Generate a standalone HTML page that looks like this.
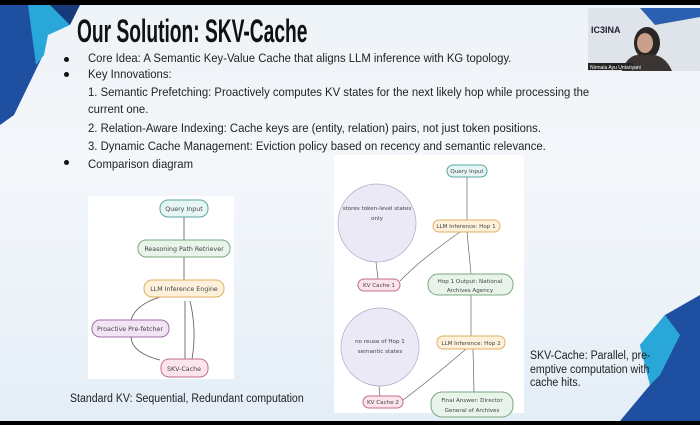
<!DOCTYPE html>
<html><head><meta charset="utf-8"><style>
body{margin:0;width:700px;height:425px;overflow:hidden;background:#000;font-family:"Liberation Sans",sans-serif}
#s{position:absolute;left:0;top:5px;width:700px;height:416px;background:linear-gradient(180deg,#eef3f8 0%,#f4f7fa 40%,#e4eef7 100%);overflow:hidden}
.t{position:absolute;color:#222;font-size:12.3px;white-space:nowrap;transform:scaleX(.92);transform-origin:left}
.b{position:absolute;width:5px;height:5px;border-radius:50%;background:#111}
</style></head><body>
<div id="s">
<svg width="700" height="416" style="position:absolute;left:0;top:0">
<polygon points="0,0 62,0 48,28 44,48 14,110 0,120" fill="#1f4fa0"/>
<polygon points="28,0 60,0 70,20 48,30 44,50 36,60" fill="#28a7d8"/>
<polygon points="50,0 80,0 70,20" fill="#163a7a"/>
<polygon points="700,290 700,416 620,416 650,380 640,340 665,310" fill="#1f4fa0"/>
<polygon points="640,340 665,310 680,330 660,370 650,380" fill="#28a7d8"/>
<rect x="588" y="3" width="112" height="63" fill="#dfe4ea"/>
<polygon points="640,3 700,3 700,12 655,20" fill="#2b5fb0"/>
<text x="591" y="28" font-size="9" font-weight="bold" fill="#223">IC3INA</text>
<ellipse cx="647" cy="38" rx="13" ry="16" fill="#2a2624"/>
<ellipse cx="645" cy="38" rx="8" ry="10" fill="#c9a08a"/>
<path d="M622,66 Q628,47 645,50 Q664,47 672,66Z" fill="#3a3532"/>
<rect x="588" y="58" width="45" height="7" fill="#222"/>
<text x="590" y="64" font-size="5" fill="#fff">Nirmala Ayu Untariyani</text>
<rect x="88" y="191" width="146" height="183" fill="#fff"/>
<g stroke="#555" stroke-width="0.8" fill="none">
<line x1="184" y1="212" x2="184" y2="235"/>
<line x1="184" y1="252" x2="184" y2="275"/>
<path d="M160,292 Q135,300 131,315"/>
<path d="M131,332 Q132,348 160,355"/>
<line x1="185" y1="296" x2="185" y2="354"/>
<path d="M192,354 Q197,325 190,296"/>
</g>
<g font-size="6.3" text-anchor="middle" font-family="DejaVu Sans" fill="#444">
<rect x="160" y="195" width="48" height="17" rx="8" fill="#e6f6f5" stroke="#5aa6a0"/><text x="184" y="206">Query Input</text>
<rect x="138" y="235" width="92" height="17" rx="8" fill="#e8f4ea" stroke="#7aa880"/><text x="184" y="246">Reasoning Path Retriever</text>
<rect x="144" y="275" width="80" height="17" rx="8" fill="#fdf1dc" stroke="#e0b060"/><text x="184" y="286">LLM Inference Engine</text>
<rect x="92" y="315" width="77" height="17" rx="8" fill="#f3e4f5" stroke="#a070a8"/><text x="130" y="326">Proactive Pre-fetcher</text>
<rect x="161" y="354" width="47" height="18" rx="8" fill="#fbe4ea" stroke="#c07088"/><text x="184" y="366">SKV-Cache</text>
</g>
<rect x="334" y="150" width="190" height="258" fill="#fff"/>
<g stroke="#666" stroke-width="0.7" fill="none">
<line x1="467" y1="172" x2="467" y2="215"/>
<line x1="467" y1="227" x2="471" y2="269"/>
<path d="M460,227 Q420,255 400,276"/>
<line x1="376" y1="257" x2="378" y2="274"/>
<line x1="471" y1="290" x2="471" y2="331"/>
<path d="M466,344 Q430,375 403,395"/>
<line x1="379" y1="381" x2="380" y2="391"/>
<line x1="473" y1="344" x2="474" y2="387"/>
</g>
<g font-size="5.6" text-anchor="middle" font-family="DejaVu Sans" fill="#444">
<circle cx="377" cy="218" r="39" fill="#ece9f6" stroke="#b0a8c8" stroke-width=".7"/>
<text x="377" y="205">stores token-level states</text><text x="377" y="215">only</text>
<circle cx="380" cy="342" r="39" fill="#ece9f6" stroke="#b0a8c8" stroke-width=".7"/>
<text x="380" y="338">no reuse of Hop 1</text><text x="380" y="348">semantic states</text>
<rect x="447" y="160" width="40" height="12" rx="6" fill="#e6f6f5" stroke="#5aa6a0"/><text x="467" y="168">Query Input</text>
<rect x="433" y="215" width="67" height="12" rx="6" fill="#fdf1dc" stroke="#e0b060"/><text x="466" y="223">LLM Inference: Hop 1</text>
<rect x="358" y="274" width="42" height="12" rx="6" fill="#fbe4ea" stroke="#c07088"/><text x="379" y="282">KV Cache 1</text>
<rect x="428" y="269" width="85" height="21" rx="10" fill="#e8f4ea" stroke="#7aa880"/><text x="470" y="278">Hop 1 Output: National</text><text x="470" y="287">Archives Agency</text>
<rect x="437" y="331" width="68" height="13" rx="6" fill="#fdf1dc" stroke="#e0b060"/><text x="471" y="340">LLM Inference: Hop 2</text>
<rect x="363" y="391" width="40" height="12" rx="6" fill="#fbe4ea" stroke="#c07088"/><text x="383" y="399">KV Cache 2</text>
<rect x="431" y="387" width="82" height="25" rx="11" fill="#e8f4ea" stroke="#7aa880"/><text x="472" y="397">Final Answer: Director</text><text x="472" y="407">General of Archives</text>
</g>
</svg>
<div style="position:absolute;left:77px;top:8px;font-size:32px;line-height:36px;font-weight:bold;color:#111;white-space:nowrap;transform:scaleX(.6);transform-origin:left">Our Solution: SKV-Cache</div>
<div class="b" style="left:64px;top:52px"></div>
<div class="b" style="left:64px;top:67px"></div>
<div class="b" style="left:64px;top:155px"></div>
<div class="t" style="left:88px;top:46px">Core Idea: A Semantic Key-Value Cache that aligns LLM inference with KG topology.</div>
<div class="t" style="left:88px;top:62px">Key Innovations:</div>
<div class="t" style="left:88px;top:80px">1. Semantic Prefetching: Proactively computes KV states for the next likely hop while processing the</div>
<div class="t" style="left:88px;top:97px">current one.</div>
<div class="t" style="left:88px;top:116px">2. Relation-Aware Indexing: Cache keys are (entity, relation) pairs, not just token positions.</div>
<div class="t" style="left:88px;top:134px">3. Dynamic Cache Management: Eviction policy based on recency and semantic relevance.</div>
<div class="t" style="left:88px;top:152px">Comparison diagram</div>
<div class="t" style="left:70px;top:388px;font-size:11.5px">Standard KV: Sequential, Redundant computation</div>
<div class="t" style="left:530px;top:345px;font-size:11.5px;line-height:13.5px">SKV-Cache: Parallel, pre-<br>emptive computation with<br>cache hits.</div>
</div>
</body></html>
